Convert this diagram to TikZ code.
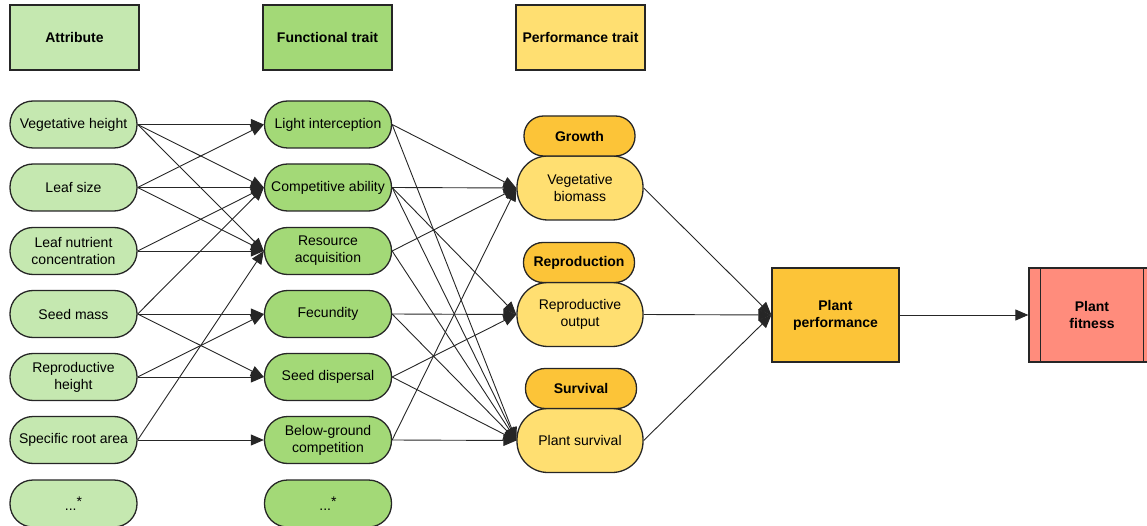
\documentclass[tikz,border=0pt]{standalone}
\usepackage{fontspec}
\setmainfont{Liberation Sans}
\usetikzlibrary{arrows.meta}
\definecolor{attrc}{HTML}{C5E8B0}
\definecolor{funcc}{HTML}{A3D977}
\definecolor{perfc}{HTML}{FFDF71}
\definecolor{orgc}{HTML}{FCC438}
\definecolor{fitc}{HTML}{FF8C7C}
\begin{document}
\begin{tikzpicture}[x=1pt,y=-1pt,
  hdr/.style={draw=black!85, line width=1.3pt, minimum width=129pt, minimum height=65pt, inner sep=0pt, align=center, font=\fontsize{14}{17}\selectfont\bfseries},
  pill/.style={draw=black!85, line width=1.3pt, rounded corners=23pt, minimum width=127pt, minimum height=47pt, inner sep=0pt, align=center, font=\fontsize{14}{17}\selectfont},
  ppill/.style={draw=black!85, line width=1.3pt, fill=perfc, rounded corners=31pt, minimum width=126pt, minimum height=64pt, inner sep=0pt, align=center, font=\fontsize{14}{17}\selectfont},
  opill/.style={draw=black!85, line width=1.3pt, fill=orgc, rounded corners=19.5pt, minimum width=111pt, minimum height=40pt, inner sep=0pt, align=center, font=\fontsize{14}{17}\selectfont\bfseries},
  bigbox/.style={draw=black!85, line width=1.3pt, minimum width=127pt, minimum height=94pt, inner sep=0pt, align=center, font=\fontsize{14}{17}\selectfont\bfseries},
  conn/.style={draw=black!85, line width=0.9pt, -{Triangle[length=13pt,width=11pt]}}
]
\useasboundingbox (0,0) rectangle (1147,526);
% headers
\node[hdr, fill=attrc] (h1) at (74.5,37.5) {Attribute};
\node[hdr, fill=funcc] (h2) at (327.5,37.5) {Functional trait};
\node[hdr, fill=perfc] (h3) at (580.5,37.5) {Performance trait};
% attributes
\node[pill, fill=attrc] (a1) at (73.5,124.5) {Vegetative height};
\node[pill, fill=attrc] (a2) at (73.5,187.5) {Leaf size};
\node[pill, fill=attrc] (a3) at (73.5,251) {Leaf nutrient\\concentration};
\node[pill, fill=attrc] (a4) at (73.5,314) {Seed mass};
\node[pill, fill=attrc] (a5) at (73.5,377) {Reproductive\\height};
\node[pill, fill=attrc] (a6) at (73.5,440) {Specific root area};
\node[pill, fill=attrc] (a7) at (73.5,503.5) {...\raisebox{4pt}{*}};
% functional traits
\node[pill, fill=funcc] (f1) at (328,124.5) {Light interception};
\node[pill, fill=funcc] (f2) at (328,187.5) {Competitive ability};
\node[pill, fill=funcc] (f3) at (328,251) {Resource\\acquisition};
\node[pill, fill=funcc] (f4) at (328,314) {Fecundity};
\node[pill, fill=funcc] (f5) at (328,377) {Seed dispersal};
\node[pill, fill=funcc] (f6) at (328,440) {Below-ground\\competition};
\node[pill, fill=funcc] (f7) at (328,503.5) {...\raisebox{4pt}{*}};
% performance traits
\node[ppill] (p1) at (580,188) {Vegetative\\biomass};
\node[ppill] (p2) at (580,314.5) {Reproductive\\output};
\node[ppill] (p3) at (580,440.5) {Plant survival};
\node[opill] (g1) at (579.5,136) {Growth};
\node[opill] (g2) at (579,262.5) {Reproduction};
\node[opill] (g3) at (581,388.5) {Survival};
% outcome
\node[bigbox, fill=orgc] (pp) at (835.5,315) {Plant\\performance};
\node[bigbox, fill=fitc, minimum width=126pt] (fit) at (1092,315) {Plant\\fitness};
\draw[draw=black!85, line width=1.3pt] ([xshift=12pt]fit.north west) -- ([xshift=12pt]fit.south west);
\draw[draw=black!85, line width=1.3pt] ([xshift=-12pt]fit.north east) -- ([xshift=-12pt]fit.south east);
% attribute -> functional
\draw[conn] (a1.east) -- (f1.west);
\draw[conn] (a1.east) -- (f2.west);
\draw[conn] (a1.east) -- (f3.west);
\draw[conn] (a2.east) -- (f1.west);
\draw[conn] (a2.east) -- (f2.west);
\draw[conn] (a2.east) -- (f3.west);
\draw[conn] (a3.east) -- (f2.west);
\draw[conn] (a3.east) -- (f3.west);
\draw[conn] (a4.east) -- (f2.west);
\draw[conn] (a4.east) -- (f4.west);
\draw[conn] (a4.east) -- (f5.west);
\draw[conn] (a5.east) -- (f4.west);
\draw[conn] (a5.east) -- (f5.west);
\draw[conn] (a6.east) -- (f3.west);
\draw[conn] (a6.east) -- (f6.west);
% functional -> performance
\draw[conn] (f1.east) -- (p1.west);
\draw[conn] (f1.east) -- (p3.west);
\draw[conn] (f2.east) -- (p1.west);
\draw[conn] (f2.east) -- (p2.west);
\draw[conn] (f2.east) -- (p3.west);
\draw[conn] (f3.east) -- (p1.west);
\draw[conn] (f3.east) -- (p3.west);
\draw[conn] (f4.east) -- (p2.west);
\draw[conn] (f4.east) -- (p3.west);
\draw[conn] (f5.east) -- (p2.west);
\draw[conn] (f5.east) -- (p3.west);
\draw[conn] (f6.east) -- (p1.west);
\draw[conn] (f6.east) -- (p3.west);
% performance -> outcome
\draw[conn] (p1.east) -- (pp.west);
\draw[conn] (p2.east) -- (pp.west);
\draw[conn] (p3.east) -- (pp.west);
\draw[conn] (pp.east) -- (fit.west);
\end{tikzpicture}
\end{document}
